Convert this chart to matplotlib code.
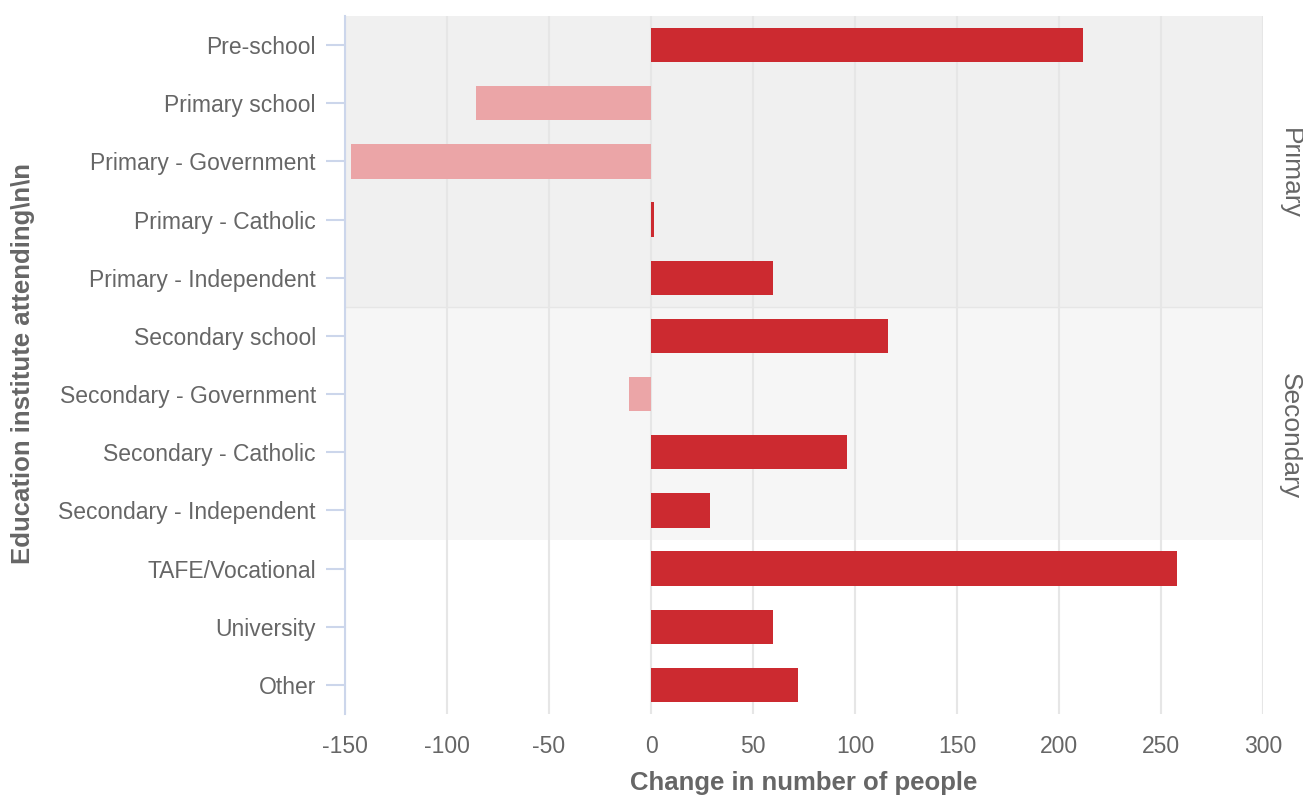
import matplotlib
matplotlib.use("Agg")
import matplotlib.pyplot as plt

categories = ["Pre-school", "Primary school", "Primary - Government", "Primary - Catholic",
              "Primary - Independent", "Secondary school", "Secondary - Government",
              "Secondary - Catholic", "Secondary - Independent", "TAFE/Vocational",
              "University", "Other"]
values = [212, -86, -147, 1.5, 60, 116, -11, 96, 29, 258, 60, 72]
x_ticks = [-150, -100, -50, 0, 50, 100, 150, 200, 250, 300]
bands = [("Primary", 0, 4, "#f0f0f0"), ("Secondary", 5, 8, "#f6f6f6")]

plt.rcParams['font.family'] = ['Liberation Sans', 'DejaVu Sans']

W, H = 1303, 796
fig = plt.figure(figsize=(W / 100, H / 100), dpi=100)
ax = fig.add_axes([345 / W, 1 - 714 / H, (1263 - 345) / W, (714 - 16) / H])

pos_color = "#cc2a30"
neg_color = "#eba5a7"
ypos = list(range(len(categories)))
colors = [pos_color if v >= 0 else neg_color for v in values]

label_y = {"Primary": 173, "Secondary": 436}
for name, i0, i1, c in bands:
    ax.axhspan(i0 - 0.5, i1 + 0.5, color=c, zorder=0, lw=0)
    fig.text(1290 / W, 1 - label_y[name] / H, name, rotation=270,
             ha='center', va='center', fontsize=19, color="#666666")
ax.axhline(4.5, color="#e6e6e6", lw=1, zorder=0.5)

ax.barh(ypos, values, height=0.59, color=colors, zorder=2)

ax.set_ylim(len(categories) - 0.5, -0.5)
ax.set_xlim(-150, 300)
ax.set_xticks(x_ticks)
ax.set_xticklabels([str(t) for t in x_ticks])
ax.set_yticks(ypos)
ax.set_yticklabels(categories)

ax.grid(axis='x', color="#e6e6e6", lw=1.5, zorder=1)
ax.set_axisbelow(True)

for s in ['top', 'right', 'bottom']:
    ax.spines[s].set_visible(False)
ax.spines['left'].set_color("#ccd6eb")
ax.spines['left'].set_linewidth(1.5)
ax.spines['left'].set_zorder(3)

ax.tick_params(axis='y', length=14, width=1.5, color="#ccd6eb", pad=7,
               labelsize=16.5, labelcolor="#666666")
ax.tick_params(axis='x', length=0, pad=15, labelsize=16.5, labelcolor="#666666")

fig.text(804 / W, 1 - 783 / H, "Change in number of people", ha='center', va='center',
         fontsize=18.5, fontweight='bold', color="#666666")
fig.text(23 / W, 1 - 364 / H, "Education institute attending\\n\\n", rotation=90,
         ha='center', va='center', fontsize=18.5, fontweight='bold', color="#666666")

fig.savefig("out.png", dpi=100, facecolor="white")
